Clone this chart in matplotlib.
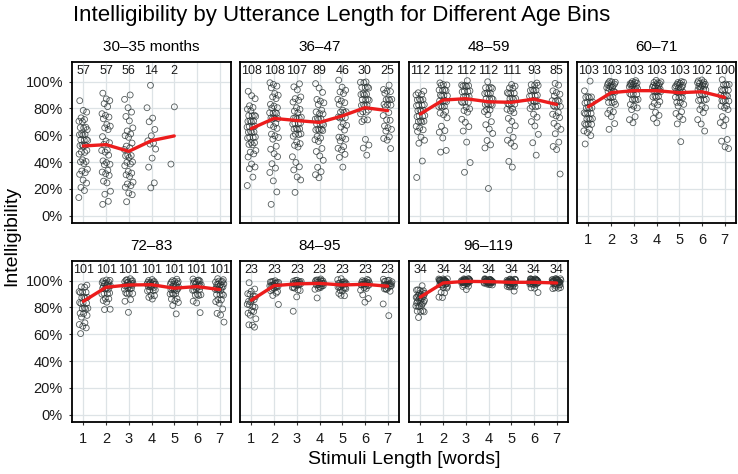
import matplotlib
matplotlib.use("Agg")
import matplotlib.pyplot as plt
import numpy as np

plt.rcParams['font.family'] = ['Liberation Sans', 'DejaVu Sans']

# ---- data (intelligibility in %) ----
age_bins = ["30\u201335 months", "36\u201347", "48\u201359", "60\u201371",
            "72\u201383", "84\u201395", "96\u2013119"]
lengths = [1, 2, 3, 4, 5, 6, 7]

counts_30_35 = [57, 57, 56, 14, 2]
counts_36_47 = [108, 108, 107, 89, 46, 30, 25]
counts_48_59 = [112, 112, 112, 112, 111, 93, 85]
counts_60_71 = [103, 103, 103, 103, 103, 102, 100]
counts_72_83 = [101, 101, 101, 101, 101, 101, 101]
counts_84_95 = [23, 23, 23, 23, 23, 23, 23]
counts_96_119 = [34, 34, 34, 34, 34, 34, 34]

means_30_35 = [52, 53, 48, 56, 59.5]
means_36_47 = [65, 72.6, 71, 69.6, 74.4, 80.6, 78.4]
means_48_59 = [75.9, 86.3, 87.3, 85, 84.6, 87, 83]
means_60_71 = [81.3, 91.8, 93.3, 93.3, 91.8, 92.5, 88.3]
means_72_83 = [84.6, 95.1, 96.8, 97, 94.4, 95.6, 93.4]
means_84_95 = [85.4, 96.3, 97.6, 98, 96.8, 97.3, 95.9]
means_96_119 = [87.8, 98.3, 99.5, 99.3, 98.8, 98.8, 98.3]

# individual scores read (approximately) off the picture, one list per length
pts_30_35 = [
    [15, 18, 21, 25, 28, 30, 32, 34, 36, 38, 40, 41, 43, 45, 47, 48, 50, 51, 52, 53,
     54, 55, 56, 57, 58, 59, 60, 61, 62, 63, 65, 66, 67, 69, 70, 72, 74, 76, 78, 86],
    [9, 12, 15, 18, 25, 27, 29, 31, 33, 35, 37, 38, 40, 42, 44, 47, 49, 50, 52, 54,
     56, 60, 63, 65, 67, 69, 71, 73, 75, 77, 80, 83, 86, 88, 90],
    [10, 16, 18, 20, 22, 24, 26, 28, 30, 32, 34, 36, 38, 40, 41, 42, 44, 45, 46, 48,
     50, 52, 55, 57, 59, 61, 64, 67, 70, 74, 78, 82, 86, 90],
    [96, 80, 73, 71, 63, 59, 56, 55, 52, 49, 43, 37, 23, 20],
    [82, 37],
]
pts_36_47 = [
    [24, 28, 35, 37, 40, 43, 46, 48, 50, 52, 53, 55, 56, 57, 58, 59, 60, 61, 62, 63,
     64, 65, 66, 67, 68, 69, 70, 71, 72, 73, 74, 75, 76, 77, 79, 81, 83, 86, 89, 93],
    [9, 19, 25, 32, 36, 40, 43, 46, 50, 53, 56, 58, 60, 62, 64, 66, 68, 70, 71, 72,
     73, 74, 75, 76, 77, 78, 79, 80, 82, 84, 86, 88, 90, 92, 94, 96, 98, 100],
    [17, 27, 30, 33, 36, 40, 45, 50, 52, 54, 56, 58, 60, 61, 62, 63, 64, 65, 66, 67,
     68, 69, 70, 71, 72, 73, 74, 75, 76, 78, 80, 82, 84, 86, 88, 90, 93, 96, 99],
    [27, 30, 33, 37, 40, 44, 48, 51, 54, 56, 58, 60, 62, 63, 64, 65, 66, 67, 68, 69,
     70, 71, 72, 73, 74, 75, 76, 78, 80, 82, 84, 86, 88, 91, 95, 99],
    [37, 42, 45, 49, 51, 53, 55, 57, 59, 60, 63, 66, 68, 70, 72, 73, 74, 75, 76, 77,
     78, 80, 82, 84, 86, 88, 90, 92, 94, 97, 100],
    [45, 51, 54, 56, 70, 72, 73, 75, 77, 78, 80, 81, 82, 83, 84, 85, 86, 87, 88, 89,
     90, 91, 92, 94, 95, 96, 97, 98, 99, 100],
    [49, 56, 58, 60, 62, 64, 66, 68, 70, 71, 75, 78, 80, 82, 83, 84, 85, 86, 87, 88,
     90, 92, 93, 95, 96],
]
pts_48_59 = [
    [30, 40, 54, 57, 60, 62, 64, 66, 68, 69, 70, 71, 72, 73, 74, 75, 76, 77, 78, 79,
     80, 81, 82, 83, 84, 85, 86, 87, 88, 89, 90, 92, 94],
    [48, 50, 57, 62, 64, 68, 72, 75, 77, 79, 80, 81, 82, 83, 84, 85, 86, 87, 88, 89,
     90, 91, 92, 93, 94, 95, 96, 97, 98, 100],
    [32, 40, 56, 62, 66, 70, 73, 76, 78, 80, 82, 83, 84, 85, 86, 87, 88, 89, 90, 91,
     92, 93, 94, 95, 96, 97, 98, 99, 100],
    [19, 50, 53, 57, 60, 64, 68, 71, 74, 77, 79, 80, 81, 82, 83, 84, 85, 86, 87, 88,
     89, 90, 91, 92, 93, 94, 95, 96, 97, 99],
    [37, 39, 51, 54, 57, 60, 63, 67, 71, 74, 76, 78, 80, 81, 82, 83, 84, 85, 86, 87,
     88, 89, 90, 91, 92, 93, 94, 95, 97, 99],
    [45, 55, 62, 66, 70, 74, 77, 79, 81, 82, 83, 84, 85, 86, 87, 88, 89, 90, 91, 92,
     93, 94, 95, 96, 97, 98, 100],
    [30, 49, 52, 56, 60, 64, 67, 70, 72, 74, 76, 78, 80, 81, 82, 83, 84, 85, 86, 87,
     88, 90, 92, 94, 96, 98],
]
pts_60_71 = [
    [55, 59, 62, 64, 66, 67, 68, 69, 70, 71, 72, 73, 74, 75, 76, 77, 78, 79, 80, 81,
     82, 83, 84, 85, 86, 87, 88, 89, 90, 92, 100],
    [65, 70, 73, 76, 78, 80, 82, 84, 85, 86, 87, 88, 89, 90, 91, 92, 93, 94, 95, 95,
     96, 96, 97, 97, 98, 98, 99, 99, 100, 100],
    [69, 72, 75, 78, 80, 82, 84, 85, 86, 87, 88, 89, 90, 91, 92, 93, 94, 95, 95, 96,
     96, 97, 97, 98, 98, 99, 99, 100, 100, 100],
    [68, 72, 75, 78, 80, 82, 84, 86, 87, 88, 89, 90, 91, 92, 93, 94, 94, 95, 95, 96,
     96, 97, 97, 98, 98, 99, 99, 100, 100, 100],
    [56, 67, 71, 74, 77, 79, 81, 83, 85, 86, 87, 88, 89, 90, 91, 92, 93, 94, 95, 95,
     96, 96, 97, 97, 98, 98, 99, 99, 100, 100],
    [63, 69, 73, 76, 79, 81, 83, 85, 86, 87, 88, 89, 90, 91, 92, 93, 94, 95, 95, 96,
     96, 97, 97, 98, 98, 99, 99, 100, 100, 100],
    [49, 51, 56, 58, 66, 69, 72, 75, 78, 80, 82, 83, 84, 85, 86, 87, 88, 89, 90, 91,
     92, 93, 94, 95, 96, 97, 98, 99, 100],
]
pts_72_83 = [
    [62, 64, 66, 68, 70, 72, 74, 76, 77, 78, 79, 80, 81, 82, 83, 84, 85, 86, 87, 88,
     89, 90, 91, 92, 93, 94, 95, 97],
    [79, 80, 83, 85, 87, 88, 89, 90, 91, 92, 93, 94, 94, 95, 95, 96, 96, 97, 97, 98,
     98, 99, 99, 100, 100, 100],
    [76, 85, 87, 89, 90, 91, 92, 93, 94, 94, 95, 95, 96, 96, 97, 97, 98, 98, 98, 99,
     99, 99, 100, 100, 100, 100],
    [85, 87, 89, 90, 91, 92, 93, 94, 94, 95, 95, 96, 96, 97, 97, 98, 98, 98, 99, 99,
     99, 100, 100, 100, 100],
    [76, 80, 83, 85, 87, 88, 89, 90, 91, 92, 93, 93, 94, 94, 95, 95, 96, 96, 97, 97,
     98, 98, 99, 99, 100, 100, 100],
    [76, 84, 86, 88, 89, 90, 91, 92, 93, 94, 94, 95, 95, 96, 96, 97, 97, 98, 98, 99,
     99, 100, 100, 100, 100],
    [68, 74, 76, 80, 82, 84, 86, 87, 88, 89, 90, 91, 92, 93, 93, 94, 94, 95, 95, 96,
     96, 97, 97, 98, 98, 99, 99, 100, 100, 100],
]
pts_84_95 = [
    [100, 93, 92, 91, 90, 89, 88, 87, 86, 85, 84, 83, 82, 81, 80, 78, 77, 76, 74, 72, 68, 66, 65],
    [100, 100, 99, 99, 99, 98, 98, 98, 97, 97, 97, 96, 96, 96, 95, 95, 94, 93, 93, 92, 91, 90, 81],
    [100, 100, 100, 99, 99, 99, 99, 98, 98, 98, 98, 97, 97, 97, 96, 96, 96, 95, 94, 93, 92, 88, 78],
    [100, 100, 100, 100, 99, 99, 99, 99, 99, 98, 98, 98, 98, 97, 97, 97, 97, 96, 96, 95, 95, 94, 87],
    [100, 100, 100, 99, 99, 99, 98, 98, 98, 97, 97, 97, 96, 96, 96, 95, 95, 94, 93, 92, 91, 90, 88],
    [100, 100, 100, 100, 99, 99, 99, 99, 98, 98, 98, 98, 97, 97, 97, 96, 96, 95, 94, 93, 89, 87, 85],
    [100, 100, 100, 99, 99, 99, 98, 98, 98, 97, 97, 97, 96, 96, 96, 95, 95, 94, 94, 93, 92, 82, 74],
]
pts_96_119 = [
    [74, 76, 77, 78, 79, 80, 81, 82, 82, 83, 83, 84, 84, 85, 85, 86, 86, 87, 87, 88,
     88, 88, 89, 89, 89, 90, 90, 91, 91, 92, 92, 93, 94, 95],
    [88, 89, 90, 91, 95, 96, 96, 97, 97, 97, 98, 98, 98, 98, 99, 99, 99, 99, 99] + [100] * 15,
    [93, 96, 97, 97, 98, 98, 98, 98, 99, 99, 99, 99, 99, 99] + [100] * 20,
    [96, 97, 97, 98, 98, 98, 99, 99, 99, 99, 99, 99] + [100] * 22,
    [93, 94, 95, 96, 96, 97, 97, 97, 98, 98, 98, 98, 99, 99, 99, 99, 99] + [100] * 17,
    [91, 95, 96, 97, 97, 98, 98, 98, 98, 99, 99, 99, 99, 99, 99] + [100] * 19,
    [93, 94, 95, 96, 96, 97, 97, 97, 98, 98, 98, 98, 99, 99, 99, 99, 99] + [100] * 17,
]

all_counts = [counts_30_35, counts_36_47, counts_48_59, counts_60_71,
              counts_72_83, counts_84_95, counts_96_119]
all_means = [means_30_35, means_36_47, means_48_59, means_60_71,
             means_72_83, means_84_95, means_96_119]
all_pts = [pts_30_35, pts_36_47, pts_48_59, pts_60_71,
           pts_72_83, pts_84_95, pts_96_119]

# ---- layout (pixels of the 738x474 figure) ----
W, H = 738, 474
lefts = [72, 240, 409, 577]
tops = [62, 261]
pw, ph = 159, 161

fig = plt.figure(figsize=(W / 100, H / 100), dpi=100)


def jitter(n, width, phase, step=0.6180339887):
    i = np.arange(n)
    return ((i * step + phase) % 1.0 - 0.5) * 2 * width


for k, name in enumerate(age_bins):
    row, col = divmod(k, 4)
    ax = fig.add_axes([lefts[col] / W, 1 - (tops[row] + ph) / H, pw / W, ph / H])

    for j, vals in enumerate(all_pts[k]):
        vals = np.array(vals, dtype=float)
        xs = lengths[j] + jitter(len(vals), 0.2, 0.13 * j + 0.05 * k)
        ys = vals + jitter(len(vals), 1.5, 0.31 * j, step=0.7548776662)
        ax.scatter(xs, ys, s=18, facecolors='none', edgecolors='#2a3333',
                   linewidths=0.6, alpha=0.8, zorder=2)

    n_len = len(all_means[k])
    ax.plot(lengths[:n_len], all_means[k], color='#ec1c1c', lw=2.4, zorder=3,
            solid_capstyle='round')

    for j, c in enumerate(all_counts[k]):
        ax.text(lengths[j], 108.2, str(c), ha='center', va='center', fontsize=9,
                color='#1a1a1a', zorder=4)

    ax.text(0.5, 1.095, name, transform=ax.transAxes, ha='center', va='center',
            fontsize=11)

    ax.set_xlim(0.5, 7.5)
    ax.set_ylim(-5.5, 114.7)
    ax.set_xticks(lengths)
    ax.set_yticks([0, 20, 40, 60, 80, 100])
    ax.set_yticklabels([f"{v}%" for v in [0, 20, 40, 60, 80, 100]])
    ax.grid(True, color='#dde3e6', lw=0.9, zorder=0)
    ax.set_axisbelow(True)
    for sp in ax.spines.values():
        sp.set_linewidth(1.3)
        sp.set_color('black')
    ax.tick_params(axis='both', length=2.5, width=0.8, color='#333333',
                   labelsize=10.5, labelcolor='#1a1a1a')
    ax.tick_params(axis='y', pad=4)
    ax.tick_params(axis='x', pad=5)

    if col != 0:
        ax.tick_params(axis='y', labelleft=False, length=0)
    if row == 0 and col != 3:
        ax.tick_params(axis='x', labelbottom=False, length=0)

fig.text(73 / W, 1 - 15 / H, "Intelligibility by Utterance Length for Different Age Bins",
         ha='left', va='center', fontsize=16)
fig.text(12 / W, 1 - 236 / H, "Intelligibility", rotation=90, ha='center',
         va='center', fontsize=14)
fig.text(404 / W, 1 - 459 / H, "Stimuli Length [words]", ha='center',
         va='center', fontsize=14)

fig.savefig("out.png", dpi=100)
